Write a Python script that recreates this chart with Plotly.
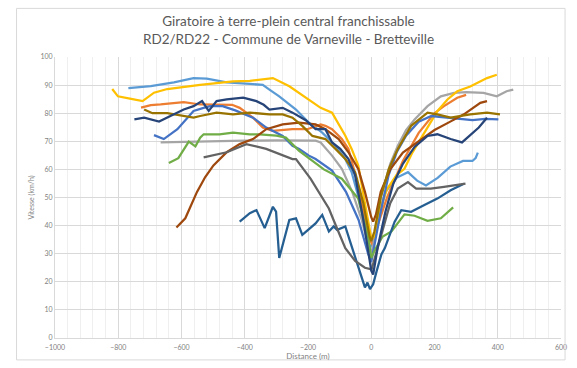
import plotly.graph_objects as go

# Speed profiles (km/h) against distance to the roundabout (m)
names = ["Série 1", "Série 2", "Série 3", "Série 4", "Série 5", "Série 6",
         "Série 7", "Série 8", "Série 9", "Série 10", "Série 11"]
colors = ["#5B9BD5", "#ED7D31", "#A5A5A5", "#FFC000", "#4472C4", "#70AD47",
          "#255E91", "#9E480E", "#636363", "#997300", "#264478"]

s1_x = [-768, -697, -624, -562, -520, -457, -384, -343, -322, -291, -238, -197, -155, -113, -82, -62, -40, -20, -5,
        5, 20, 45, 80, 116, 145, 173, 210, 250, 290, 320, 330, 337]
s1_y = [88.9, 89.6, 91, 92.5, 92.3, 91, 90.4, 90.1, 88.4, 86, 81.3, 76.6, 73.1, 68.4, 63.7, 59, 50, 40, 32,
        34, 42, 52, 57, 59, 56, 54.3, 57, 61, 63, 63, 64, 66]

s2_x = [-728, -697, -666, -593, -541, -490, -440, -416, -374, -343, -312, -249, -202, -160, -145, -124, -93, -72, -50,
        -25, -5, 5, 20, 50, 100, 150, 200, 230, 272, 300]
s2_y = [82, 82.9, 83.1, 83.9, 83.1, 83, 83, 81.9, 78.4, 74.9, 73.7, 74.3, 74.3, 76, 75.5, 74.3, 70.8, 67.3, 58,
        45, 35, 33, 40, 50, 63, 73, 80, 82.5, 85.5, 86.5]

s3_x = [-666, -600, -500, -400, -300, -200, -176, -160, -124, -93, -60, -30, -10, 0,
        10, 30, 60, 84, 110, 137, 178, 220, 262, 300, 334, 355, 397, 428, 449]
s3_y = [69.6, 69.8, 70, 70.2, 70.3, 70.2, 70.2, 69.6, 64.9, 60.2, 52, 42, 33, 30,
        35, 50, 62, 68.4, 74, 77.8, 82.5, 86, 87.2, 87.5, 87.2, 87.2, 86, 87.8, 88.4]

s4_x = [-819, -801, -759, -723, -687, -645, -541, -437, -384, -311, -259, -197, -160, -124, -108, -82, -62, -41, -20,
        -5, 0, 10, 25, 50, 80, 105, 130, 162, 190, 209, 241, 272, 313, 340, 366, 397]
s4_y = [88.6, 86, 85.1, 84.3, 87.3, 88.6, 90.1, 91.3, 91.5, 92.5, 89.6, 84.9, 81.9, 80.2, 77.2, 72, 67.3, 61.4, 48,
        38, 35.5, 36, 45, 53, 58, 60.2, 66, 71.9, 77, 80.7, 84.9, 87.8, 89.5, 91, 92.5, 93.7]

s5_x = [-687, -656, -613, -562, -530, -509, -470, -430, -374, -332, -280, -249, -228, -197, -176, -124, -80, -40, -10,
        0, 10, 30, 55, 80, 110, 150, 190, 230, 270, 320, 360, 402]
s5_y = [72.2, 70.8, 74.3, 80.8, 81.9, 82.5, 82.5, 81, 78.4, 74.9, 71.9, 68.4, 67.3, 64.9, 63.7, 59.6, 52, 42, 30,
        27, 33, 45, 58, 66, 72, 77, 79, 78.5, 78, 77.5, 78, 77.8]

s6_x = [-640, -610, -577, -556, -541, -530, -480, -437, -384, -353, -300, -270, -228, -207, -150, -93, -41, -9, 0,
        10, 35, 64, 105, 137, 178, 220, 259]
s6_y = [62.3, 64, 69.9, 68.2, 71.3, 72.5, 72.5, 73.1, 72.5, 72.5, 72, 71.3, 66.6, 64.9, 60, 56.7, 49.6, 35.6, 28.5,
        31, 36, 37.9, 44, 43.5, 41.7, 42.6, 46.5]

s7_x = [-416, -384, -363, -337, -311, -301, -291, -259, -238, -218, -176, -155, -134, -119, -108, -82, -67, -51, -30,
        -20, -12, -4, 6, 17, 32, 43, 74, 95, 126, 168, 209, 251, 293]
s7_y = [41.4, 44.4, 45.5, 39.1, 46.7, 45, 28.5, 42, 42.6, 36.7, 40.8, 43.8, 37.9, 39.7, 38.5, 39.7, 34.4, 28.5, 21.5,
        18, 19.7, 17.4, 19.1, 23.8, 29.7, 32, 41.4, 45.5, 44.9, 47.3, 49.6, 52.6, 54.9]

s8_x = [-616, -588, -551, -525, -499, -457, -416, -374, -332, -280, -228, -176, -145, -103, -72, -41, -20, 0, 6,
        15, 30, 60, 100, 150, 200, 250, 293, 345, 366]
s8_y = [39.3, 42.6, 52, 57.3, 61.4, 66.1, 69, 70.8, 74.3, 76, 76.6, 76, 74.3, 70.8, 66.1, 60.2, 52, 43, 41.4,
        44, 52, 60, 66, 70, 74, 77, 79.6, 83.7, 84.3]

s9_x = [-530, -457, -395, -332, -249, -238, -192, -166, -134, -113, -82, -51, -20, 1,
        20, 40, 60, 84, 116, 142, 188, 230, 298]
s9_y = [64.3, 66.1, 69, 67.3, 63.7, 63.7, 56.7, 52, 46.1, 40.3, 32, 27.4, 25, 24.4,
        32, 40, 48, 53.2, 55.5, 53.2, 53.2, 53.8, 54.9]

s10_x = [-718, -692, -645, -600, -562, -541, -489, -437, -384, -322, -280, -249, -218, -186, -145, -113, -82, -51, -25,
         -5, 0, 10, 30, 55, 84, 126, 178, 209, 251, 313, 366, 407]
s10_y = [81.3, 80, 80, 79, 78.4, 79, 80.2, 79.6, 80.2, 79.6, 79.6, 78.4, 75.5, 71.9, 70.8, 67.3, 63.7, 59, 48,
         36, 34.5, 38, 50, 60, 67.3, 75.5, 80.2, 79.6, 78.4, 79.6, 80.2, 79.6]

s11_x = [-749, -718, -671, -634, -593, -562, -535, -514, -489, -457, -405, -363, -340, -322, -280, -249, -207, -176,
         -145, -124, -98, -72, -51, -25, 0, 6, 20, 45, 70, 100, 137, 178, 209, 251, 287, 340, 366]
s11_y = [77.8, 78.4, 77, 79, 81.3, 82.5, 84.3, 80.8, 84.3, 84.9, 85.5, 84.3, 83, 81.3, 81.9, 80.2, 77.5, 74.3,
         74.3, 69.6, 67.3, 63.7, 57.9, 42, 24, 22.6, 32, 45, 55, 62, 68, 71.9, 72.5, 70.8, 69.6, 74.9, 78.4]

series_x = [s1_x, s2_x, s3_x, s4_x, s5_x, s6_x, s7_x, s8_x, s9_x, s10_x, s11_x]
series_y = [s1_y, s2_y, s3_y, s4_y, s5_y, s6_y, s7_y, s8_y, s9_y, s10_y, s11_y]

x_ticks = [-1000, -800, -600, -400, -200, 0, 200, 400, 600]
y_ticks = [0, 10, 20, 30, 40, 50, 60, 70, 80, 90, 100]

fig = go.Figure()
for name, color, xs, ys in zip(names, colors, series_x, series_y):
    fig.add_trace(go.Scatter(x=xs, y=ys, mode="lines", name=name,
                             line=dict(color=color, width=2.25)))

txt = "#595959"
fig.update_layout(
    width=577, height=368,
    margin=dict(l=55, r=10, t=57, b=27),
    paper_bgcolor="white", plot_bgcolor="white",
    showlegend=False,
    font=dict(family="Lato, 'Open Sans', sans-serif", color=txt),
    title=dict(
        text="Giratoire à terre-plein central franchissable<br>RD2/RD22 - Commune de Varneville - Bretteville",
        x=0.5, xanchor="center", y=0.928, yanchor="top",
        font=dict(size=13.5, color=txt)),
)
fig.update_xaxes(
    range=[-1000, 600], tickvals=x_ticks, ticks="",
    showgrid=True, gridcolor="#D9D9D9", gridwidth=1,
    minor=dict(dtick=40, showgrid=True, gridcolor="#EFEFEF", gridwidth=1),
    zeroline=False, showline=True, linecolor="#D9D9D9",
    tickfont=dict(size=7, color="#7F7F7F"), ticklabelstandoff=3,
    title=dict(text="Distance (m)", font=dict(size=8, color="#7F7F7F"), standoff=1),
)
fig.update_yaxes(
    range=[0, 100], tickvals=y_ticks, ticks="",
    showgrid=True, gridcolor="#D9D9D9", gridwidth=1,
    zeroline=False, showline=True, linecolor="#D9D9D9",
    tickfont=dict(size=7, color="#7F7F7F"),
    title=dict(text="Vitesse (km/h)", font=dict(size=7, color="#7F7F7F"), standoff=4),
)
# chart frame
fig.add_shape(type="rect", xref="paper", yref="paper",
              x0=-0.076, x1=1.008, y0=-0.078, y1=1.173,
              line=dict(color="#D9D9D9", width=1))

fig.write_html("out.html")
